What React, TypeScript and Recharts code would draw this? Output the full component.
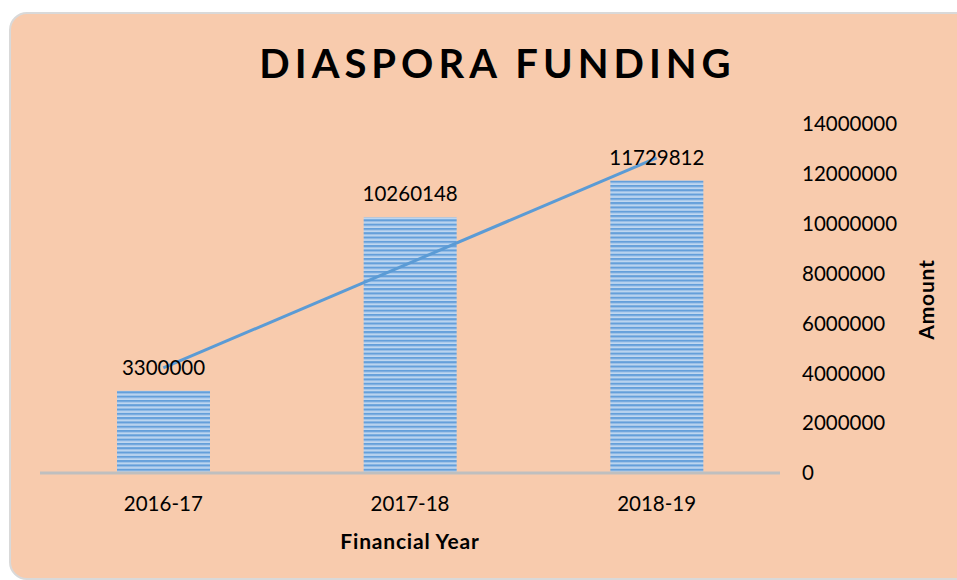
import React from 'react';
import { ComposedChart, Bar, Line, XAxis, YAxis, LabelList } from 'recharts';

const categories = ['2016-17', '2017-18', '2018-19'];
const amounts = [3300000, 10260148, 11729812];
const trendValues = [4215000, 8430000, 12645000];
const yTicks = [0, 2000000, 4000000, 6000000, 8000000, 10000000, 12000000, 14000000];

const data = categories.map((c, i) => ({ year: c, amount: amounts[i], trend: trendValues[i] }));

const FONT = 'Lato, "Open Sans", sans-serif';

const AmountLabel = (props: any) => {
  const vb = props.viewBox || {};
  const cx = vb.x + 145;
  const cy = vb.y + vb.height / 2 + 1;
  return (
    <text
      x={cx}
      y={cy}
      transform={`rotate(-90, ${cx}, ${cy})`}
      textAnchor="middle"
      dominantBaseline="central"
      fontFamily={FONT}
      fontWeight={700}
      fontSize={21}
      letterSpacing={0.8}
      fill="#000"
    >
      Amount
    </text>
  );
};

export default function App() {
  return (
    <div style={{ position: 'absolute', left: 0, top: 0, width: 957, height: 580, overflow: 'hidden', background: '#fff' }}>
      <div
        style={{
          position: 'absolute',
          left: 9,
          top: 12,
          width: 990,
          height: 564,
          background: '#F8CBAD',
          border: '2px solid #D9D9D9',
          borderRadius: 18,
        }}
      />
      <div
        style={{
          position: 'absolute',
          left: 0,
          top: 40,
          width: 995,
          textAlign: 'center',
          fontFamily: FONT,
          fontWeight: 700,
          fontSize: 40,
          letterSpacing: 5,
          color: '#000',
          lineHeight: '46px',
        }}
      >
        DIASPORA FUNDING
      </div>
      <div style={{ position: 'absolute', left: 0, top: 0 }}>
        <ComposedChart
          width={957}
          height={580}
          data={data}
          margin={{ top: 124, right: 32, bottom: 0, left: 40 }}
          barCategoryGap="31%"
        >
          <defs>
            <pattern id="stripes" patternUnits="userSpaceOnUse" width="6" height="4.3">
              <rect x="0" y="0" width="6" height="4.3" fill="#C2D9F1" />
              <rect x="0" y="0" width="6" height="2.1" fill="#649FDA" />
              <rect x="0" y="2.1" width="6" height="0.7" fill="#94BCE7" />
            </pattern>
          </defs>
          <XAxis
            dataKey="year"
            height={107}
            axisLine={{ stroke: '#BFBFBF', strokeWidth: 3 }}
            tickLine={false}
            tickSize={0}
            tickMargin={23}
            tick={{ fontFamily: FONT, fontSize: 20.5, fill: '#000' }}
            label={{
              value: 'Financial Year',
              position: 'insideBottom',
              offset: 31,
              fontFamily: FONT,
              fontWeight: 700,
              fontSize: 21,
              letterSpacing: 0.8,
              fill: '#000',
            }}
          />
          <YAxis
            orientation="right"
            width={145}
            domain={[0, 14000000]}
            ticks={yTicks}
            axisLine={false}
            tickLine={false}
            tickSize={6}
            tickMargin={16}
            tick={{ fontFamily: FONT, fontSize: 20.5, fill: '#000', textAnchor: 'start' }}
            label={<AmountLabel />}
          />
          <Bar dataKey="amount" fill="url(#stripes)" barSize={93} isAnimationActive={false}>
            <LabelList
              dataKey="amount"
              position="top"
              offset={16}
              style={{ fontFamily: FONT, fontSize: 20.5, fill: '#000' }}
            />
          </Bar>
          <Line
            dataKey="trend"
            stroke="#5B9BD5"
            strokeWidth={3}
            dot={false}
            activeDot={false}
            isAnimationActive={false}
          />
        </ComposedChart>
      </div>
    </div>
  );
}
